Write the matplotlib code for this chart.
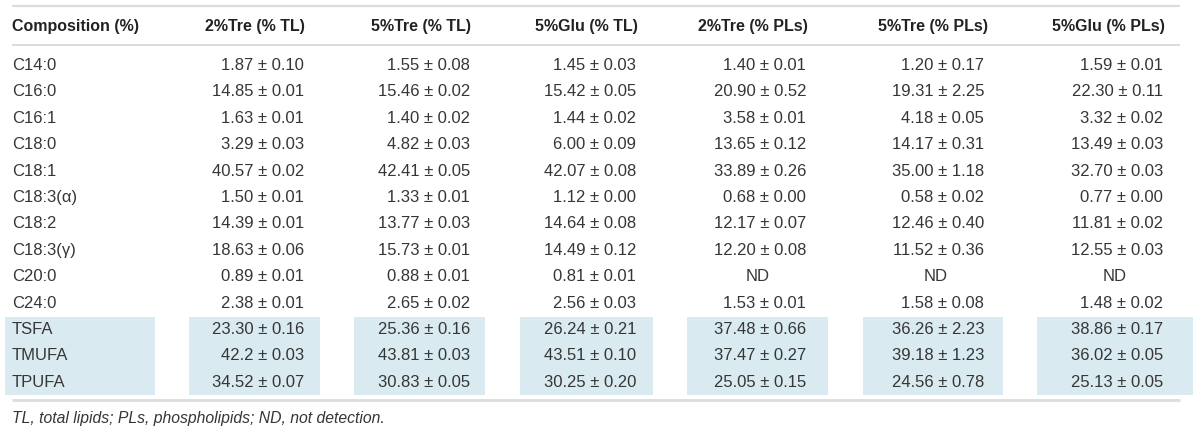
import matplotlib
matplotlib.use("Agg")
import matplotlib.pyplot as plt
from matplotlib.patches import Rectangle

plt.rcParams['font.family'] = ['Liberation Sans', 'DejaVu Sans']

# table content
headers = ["Composition (%)", "2%Tre (% TL)", "5%Tre (% TL)", "5%Glu (% TL)",
           "2%Tre (% PLs)", "5%Tre (% PLs)", "5%Glu (% PLs)"]
composition = ["C14:0", "C16:0", "C16:1", "C18:0", "C18:1", "C18:3(α)", "C18:2",
               "C18:3(γ)", "C20:0", "C24:0", "TSFA", "TMUFA", "TPUFA"]
tre2_tl = ["1.87 ± 0.10", "14.85 ± 0.01", "1.63 ± 0.01", "3.29 ± 0.03", "40.57 ± 0.02",
           "1.50 ± 0.01", "14.39 ± 0.01", "18.63 ± 0.06", "0.89 ± 0.01", "2.38 ± 0.01",
           "23.30 ± 0.16", "42.2 ± 0.03", "34.52 ± 0.07"]
tre5_tl = ["1.55 ± 0.08", "15.46 ± 0.02", "1.40 ± 0.02", "4.82 ± 0.03", "42.41 ± 0.05",
           "1.33 ± 0.01", "13.77 ± 0.03", "15.73 ± 0.01", "0.88 ± 0.01", "2.65 ± 0.02",
           "25.36 ± 0.16", "43.81 ± 0.03", "30.83 ± 0.05"]
glu5_tl = ["1.45 ± 0.03", "15.42 ± 0.05", "1.44 ± 0.02", "6.00 ± 0.09", "42.07 ± 0.08",
           "1.12 ± 0.00", "14.64 ± 0.08", "14.49 ± 0.12", "0.81 ± 0.01", "2.56 ± 0.03",
           "26.24 ± 0.21", "43.51 ± 0.10", "30.25 ± 0.20"]
tre2_pl = ["1.40 ± 0.01", "20.90 ± 0.52", "3.58 ± 0.01", "13.65 ± 0.12", "33.89 ± 0.26",
           "0.68 ± 0.00", "12.17 ± 0.07", "12.20 ± 0.08", "ND", "1.53 ± 0.01",
           "37.48 ± 0.66", "37.47 ± 0.27", "25.05 ± 0.15"]
tre5_pl = ["1.20 ± 0.17", "19.31 ± 2.25", "4.18 ± 0.05", "14.17 ± 0.31", "35.00 ± 1.18",
           "0.58 ± 0.02", "12.46 ± 0.40", "11.52 ± 0.36", "ND", "1.58 ± 0.08",
           "36.26 ± 2.23", "39.18 ± 1.23", "24.56 ± 0.78"]
glu5_pl = ["1.59 ± 0.01", "22.30 ± 0.11", "3.32 ± 0.02", "13.49 ± 0.03", "32.70 ± 0.03",
           "0.77 ± 0.00", "11.81 ± 0.02", "12.55 ± 0.03", "ND", "1.48 ± 0.02",
           "38.86 ± 0.17", "36.02 ± 0.05", "25.13 ± 0.05"]
footnote = "TL, total lipids; PLs, phospholipids; ND, not detection."
n_shaded = 3  # last rows (totals) are highlighted

columns = [tre2_tl, tre5_tl, glu5_tl, tre2_pl, tre5_pl, glu5_pl]

# layout in pixel units
W, H = 1200, 430
col_right = [304, 470, 636, 806, 984, 1163]
head_right = [305, 471, 638, 808, 988, 1165]
box_x = [(5, 155), (189, 320), (354, 485), (520, 653), (687, 828), (863, 1003), (1037, 1193)]
row_y0, row_dy = 65.5, 26.4
text_c = "#363636"
shade = "#d9eaf1"
rule_c = "#dcdcdc"
fs = 12

fig = plt.figure(figsize=(12, 4.3), dpi=100)
ax = fig.add_axes([0, 0, 1, 1])
ax.set_xlim(0, W)
ax.set_ylim(H, 0)
ax.axis("off")

n = len(composition)
ys = [row_y0 + i * row_dy for i in range(n)]

# shaded boxes behind total rows
top = ys[n - n_shaded] - row_dy / 2 + 0.5
bot = ys[-1] + row_dy / 2 - 0.5
for x0, x1 in box_x:
    ax.add_patch(Rectangle((x0, top), x1 - x0, bot - top, color=shade, lw=0, zorder=0))

# rules
for y, lw in [(5.5, 1.6), (45, 1.4), (399.5, 2.0)]:
    ax.plot([12, 1180], [y, y], color=rule_c, lw=lw, solid_capstyle="butt", zorder=1)

# header
ax.text(12, 27, headers[0], ha="left", va="center", fontsize=11.5, fontweight="bold", color="#222222")
for h, xr in zip(headers[1:], head_right):
    ax.text(xr, 27, h, ha="right", va="center", fontsize=11.5, fontweight="bold", color="#222222")

# body
for i, name in enumerate(composition):
    ax.text(12, ys[i], name, ha="left", va="center", fontsize=fs, color=text_c)
    for col, xr in zip(columns, col_right):
        v = col[i]
        if v == "ND":
            ax.text(xr - 48, ys[i], v, ha="center", va="center", fontsize=fs, color=text_c)
        else:
            ax.text(xr, ys[i], v, ha="right", va="center", fontsize=fs, color=text_c)

ax.text(12, 418, footnote, ha="left", va="center", fontsize=11.3, style="italic", color=text_c)

fig.savefig("out.png", dpi=100)
